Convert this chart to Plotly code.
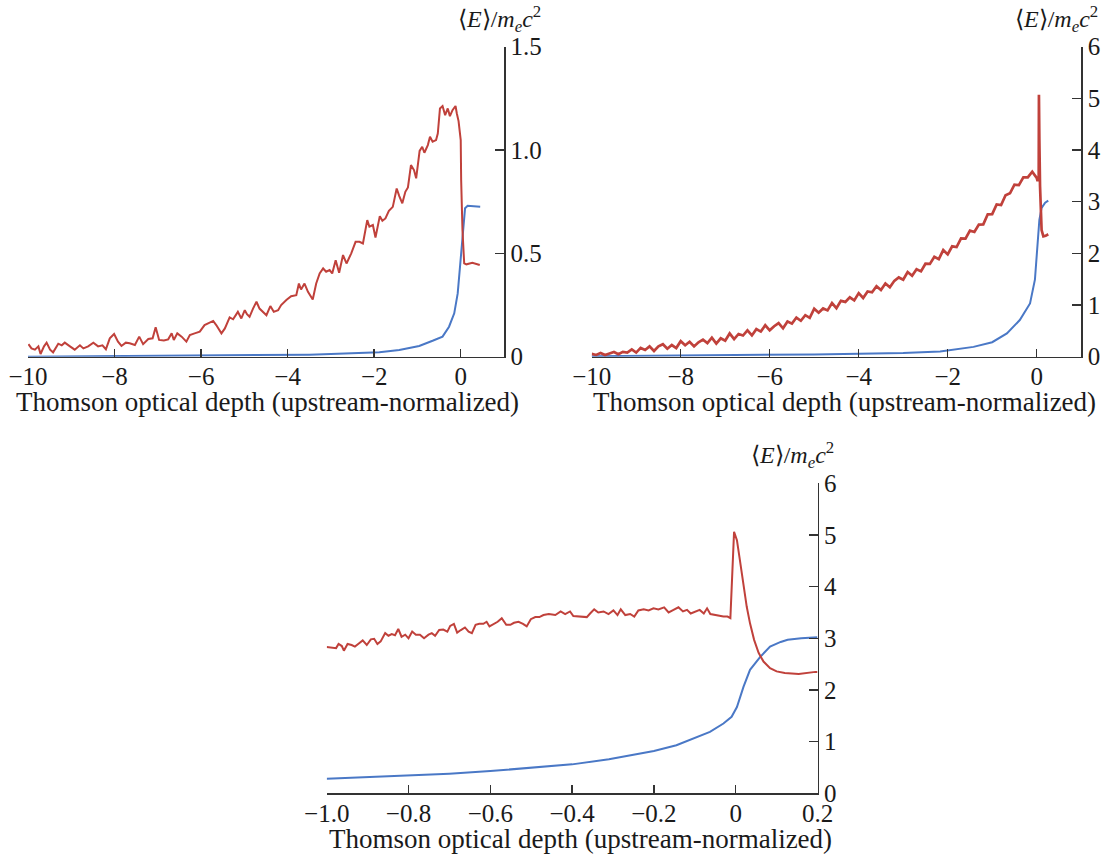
import plotly.graph_objects as go

# ---------------- data: panel 1 (top-left) ----------------
p1_red_x = [-9.99, -9.92, -9.84, -9.76, -9.71, -9.63, -9.57, -9.49, -9.42, -9.30,
            -9.22, -9.15, -9.03, -8.92, -8.80, -8.72, -8.61, -8.49, -8.38, -8.28,
            -8.20, -8.11, -8.01, -7.92, -7.84, -7.74, -7.65, -7.53, -7.43, -7.34,
            -7.22, -7.12, -7.05, -6.97, -6.86, -6.76, -6.68, -6.63, -6.55, -6.45,
            -6.34, -6.26, -6.15, -6.03, -5.92, -5.80, -5.72, -5.65, -5.53, -5.45,
            -5.34, -5.26,
            -5.15, -5.07, -4.99, -4.94, -4.88, -4.80, -4.72, -4.65, -4.57, -4.49,
            -4.40, -4.32, -4.22, -4.15, -4.03, -3.92, -3.80, -3.74, -3.69, -3.61,
            -3.53, -3.42, -3.34, -3.26, -3.18, -3.11, -3.03, -2.97, -2.89, -2.81,
            -2.72, -2.64, -2.53, -2.43, -2.34, -2.26, -2.16, -2.11, -2.03, -1.97,
            -1.87, -1.81, -1.74, -1.66, -1.57, -1.48, -1.42, -1.35, -1.28, -1.22,
            -1.15, -1.08, -1.03, -0.95, -0.89, -0.84, -0.76, -0.71, -0.65, -0.57,
            -0.53, -0.48, -0.42, -0.36, -0.30, -0.25, -0.19, -0.12, -0.09, -0.05,
            0.00, 0.01, 0.04, 0.08, 0.13, 0.27, 0.44]
p1_red_y = [0.061, 0.040, 0.034, 0.050, 0.013, 0.050, 0.068, 0.034, 0.021, 0.063,
            0.055, 0.068, 0.050, 0.034, 0.055, 0.040, 0.050, 0.068, 0.050, 0.055,
            0.036, 0.089, 0.110, 0.073, 0.052, 0.068, 0.065, 0.057, 0.097, 0.061,
            0.086, 0.089, 0.142, 0.081, 0.078, 0.084, 0.113, 0.081, 0.113, 0.097,
            0.073, 0.105, 0.113, 0.121, 0.153, 0.165, 0.173, 0.153, 0.113, 0.137,
            0.190, 0.181,
            0.217, 0.185, 0.225, 0.206, 0.193, 0.233, 0.266, 0.233, 0.217, 0.201,
            0.245, 0.217, 0.225, 0.250, 0.274, 0.293, 0.298, 0.354, 0.325, 0.354,
            0.314, 0.277, 0.354, 0.403, 0.427, 0.411, 0.419, 0.403, 0.467, 0.406,
            0.492, 0.451, 0.500, 0.556, 0.556, 0.548, 0.661, 0.629, 0.637, 0.577,
            0.680, 0.658, 0.669, 0.706, 0.725, 0.814, 0.777, 0.742, 0.798, 0.819,
            0.927, 0.903, 0.863, 0.996, 1.016, 0.987, 1.024, 1.064, 1.040, 1.048,
            1.080, 1.201, 1.213, 1.169, 1.201, 1.164, 1.193, 1.213, 1.177, 1.140,
            1.048, 0.855, 0.613, 0.452, 0.447, 0.455, 0.444]
p1_blue_x = [-10, -9, -8, -7, -6, -5, -4, -3.5, -3, -2.5, -1.88, -1.42, -0.96, -0.65,
             -0.42, -0.27, -0.15, -0.07, -0.02, 0.03, 0.07, 0.10, 0.16, 0.31, 0.45]
p1_blue_y = [0.000, 0.001, 0.002, 0.003, 0.004, 0.006, 0.008, 0.010, 0.013, 0.017,
             0.022, 0.032, 0.052, 0.077, 0.097, 0.145, 0.210, 0.306, 0.435, 0.565,
             0.661, 0.718, 0.730, 0.729, 0.726]

# ---------------- data: panel 2 (top-right) ----------------
p2_red_x = [-10.0, -9.9, -9.8, -9.7, -9.6, -9.5, -9.4, -9.3, -9.2, -9.1,
            -9.0, -8.9, -8.8, -8.7, -8.6, -8.5, -8.4, -8.3, -8.2, -8.1,
            -8.0, -7.9, -7.8, -7.7, -7.6, -7.5, -7.4, -7.3, -7.2, -7.1,
            -7.0, -6.9, -6.8, -6.7, -6.6, -6.5, -6.4, -6.3, -6.2, -6.1,
            -6.0, -5.9, -5.8, -5.7, -5.6, -5.5, -5.4, -5.3, -5.2, -5.1,
            -5.0, -4.9, -4.8, -4.7, -4.6, -4.5, -4.4, -4.3, -4.2, -4.1,
            -4.0, -3.9, -3.8, -3.7, -3.6, -3.5, -3.4, -3.3, -3.2, -3.1,
            -3.0, -2.9, -2.8, -2.7, -2.6, -2.5, -2.4, -2.3, -2.2, -2.1,
            -2.0, -1.9, -1.8, -1.7, -1.6, -1.5, -1.4, -1.3, -1.2, -1.1,
            -1.0, -0.9, -0.8, -0.7, -0.6, -0.5, -0.4, -0.3, -0.2, -0.1,
            0.0, 0.02, 0.045, 0.05, 0.06, 0.075, 0.09, 0.11, 0.15, 0.20, 0.26]
p2_red_y = [0.055, 0.034, 0.073, 0.032, 0.061, 0.090, 0.047, 0.094, 0.081, 0.143,
            0.080, 0.170, 0.130, 0.200, 0.110, 0.200, 0.242, 0.154, 0.226, 0.168,
            0.300, 0.220, 0.290, 0.200, 0.280, 0.330, 0.264, 0.368, 0.252, 0.356,
            0.310, 0.450, 0.340, 0.440, 0.410, 0.510, 0.412, 0.534, 0.486, 0.608,
            0.510, 0.590, 0.650, 0.550, 0.680, 0.640, 0.758, 0.696, 0.804, 0.752,
            0.930, 0.852, 0.934, 0.896, 1.038, 0.940, 1.080, 1.060, 1.150, 1.090,
            1.230, 1.136, 1.262, 1.248, 1.364, 1.290, 1.416, 1.342, 1.468, 1.534,
            1.490, 1.638, 1.566, 1.694, 1.652, 1.800, 1.796, 1.932, 1.888, 2.064,
            1.980, 2.136, 2.122, 2.288, 2.284, 2.440, 2.414, 2.558, 2.562, 2.756,
            2.760, 2.948, 2.936, 3.124, 3.162, 3.330, 3.320, 3.470, 3.470, 3.580,
            3.460, 3.400, 3.450, 5.070, 4.200, 3.300, 2.750, 2.450, 2.330, 2.340, 2.370]
p2_blue_x = [-10, -9, -8, -7, -6, -5, -4, -3, -2.17, -1.42, -1.0, -0.67, -0.38,
             -0.15, -0.04, 0.02, 0.06, 0.11, 0.19, 0.26]
p2_blue_y = [0.01, 0.015, 0.02, 0.03, 0.035, 0.045, 0.055, 0.07, 0.10, 0.19, 0.28,
             0.45, 0.71, 1.03, 1.49, 2.13, 2.65, 2.88, 2.98, 3.02]

# ---------------- data: panel 3 (bottom, zoom near the shock) ----------------
p3_red_x = [-1.000, -0.988, -0.977, -0.971, -0.963, -0.958, -0.949, -0.939, -0.931, -0.923,
            -0.912, -0.902, -0.892, -0.884, -0.876, -0.868, -0.857, -0.849, -0.841, -0.833,
            -0.825, -0.817, -0.808, -0.800, -0.791, -0.782, -0.772, -0.762, -0.751, -0.743,
            -0.735, -0.725, -0.715, -0.705, -0.698, -0.689, -0.681, -0.672, -0.662, -0.653,
            -0.645, -0.636, -0.627, -0.617, -0.609, -0.602, -0.592, -0.582, -0.572, -0.561,
            -0.551, -0.542, -0.531, -0.520, -0.511, -0.501, -0.490, -0.480, -0.470, -0.457,
            -0.441, -0.428, -0.417, -0.405, -0.397, -0.380, -0.364, -0.356, -0.346, -0.336,
            -0.323, -0.311, -0.299, -0.289, -0.281, -0.270, -0.258, -0.248, -0.238, -0.225,
            -0.213, -0.201, -0.189, -0.175, -0.164, -0.152, -0.140, -0.129, -0.119, -0.110,
            -0.099, -0.088, -0.078, -0.070, -0.062, -0.052, -0.042, -0.030, -0.020, -0.013,
            -0.004, 0.003, 0.009, 0.015, 0.020, 0.027, 0.035, 0.045, 0.056, 0.068,
            0.084, 0.100, 0.120, 0.154, 0.195, 0.200]
p3_red_y = [2.83, 2.82, 2.81, 2.89, 2.85, 2.76, 2.89, 2.87, 2.84, 2.89,
            2.96, 2.87, 2.98, 2.99, 2.89, 2.94, 3.10, 3.05, 3.08, 3.06,
            3.18, 3.03, 3.07, 3.00, 3.13, 3.07, 3.07, 3.00, 3.07, 3.10,
            3.05, 3.16, 3.17, 3.13, 3.24, 3.28, 3.11, 3.16, 3.21, 3.13,
            3.10, 3.26, 3.28, 3.28, 3.32, 3.23, 3.28, 3.32, 3.39, 3.26,
            3.26, 3.30, 3.32, 3.28, 3.23, 3.37, 3.41, 3.41, 3.45, 3.47,
            3.45, 3.52, 3.47, 3.52, 3.43, 3.42, 3.41, 3.48, 3.56, 3.50,
            3.52, 3.47, 3.54, 3.45, 3.56, 3.45, 3.47, 3.42, 3.54, 3.56,
            3.54, 3.58, 3.56, 3.60, 3.50, 3.55, 3.60, 3.52, 3.55, 3.48,
            3.52, 3.55, 3.48, 3.58, 3.47, 3.45, 3.43, 3.42, 3.42, 3.39,
            5.06, 4.90, 4.58, 4.26, 3.94, 3.61, 3.29, 2.97, 2.72, 2.55,
            2.42, 2.36, 2.33, 2.31, 2.35, 2.35]
p3_blue_x = [-1.0, -0.9, -0.8, -0.7, -0.6, -0.5, -0.4, -0.31, -0.2, -0.145, -0.104,
             -0.063, -0.03, -0.01, 0.003, 0.019, 0.035, 0.06, 0.084, 0.11, 0.127,
             0.16, 0.2]
p3_blue_y = [0.28, 0.31, 0.34, 0.38, 0.43, 0.49, 0.56, 0.66, 0.82, 0.93, 1.06,
             1.19, 1.35, 1.48, 1.67, 2.06, 2.39, 2.64, 2.84, 2.93, 2.97,
             3.00, 3.02]

# tick labels
p1_xticks = [-10, -8, -6, -4, -2, 0]
p1_xtext = ["\u221210", "\u22128", "\u22126", "\u22124", "\u22122", "0"]
p1_yticks = [0, 0.5, 1.0, 1.5]
p1_ytext = ["0", "0.5", "1.0", "1.5"]
p2_yticks = [0, 1, 2, 3, 4, 5, 6]
p2_ytext = ["0", "1", "2", "3", "4", "5", "6"]
p3_xticks = [-1.0, -0.8, -0.6, -0.4, -0.2, 0, 0.2]
p3_xtext = ["\u22121.0", "\u22120.8", "\u22120.6", "\u22120.4", "\u22120.2", "0", "0.2"]

x_title = "Thomson optical depth (upstream-normalized)"
y_title = "\u27e8<i>E</i>\u27e9/<i>m</i><sub><i>e</i></sub><i>c</i><sup>2</sup>"

RED = "#C0413B"
BLUE = "#4A78C6"
AX = "#333333"
FONT = "Liberation Serif"
W, H = 1107, 857

fig = go.Figure()
def add(x, y, color, xa, ya, width=2):
    fig.add_trace(go.Scatter(x=x, y=y, mode="lines", xaxis=xa, yaxis=ya,
                             line=dict(color=color, width=width), showlegend=False,
                             hoverinfo="skip"))

add(p1_blue_x, p1_blue_y, BLUE, "x", "y")
add(p1_red_x, p1_red_y, RED, "x", "y")
add(p2_blue_x, p2_blue_y, BLUE, "x2", "y2")
add(p2_red_x, p2_red_y, RED, "x2", "y2", width=2.7)
add(p3_blue_x, p3_blue_y, BLUE, "x3", "y3")
add(p3_red_x, p3_red_y, RED, "x3", "y3")

def xdom(a, b):
    return [a / W, b / W]

def ydom(top, bottom):
    return [1 - bottom / H, 1 - top / H]

tick_font = dict(family=FONT, size=25, color="#1a1a1a")
common_x = dict(showline=True, linecolor=AX, linewidth=1.5, ticks="inside", ticklen=8,
                tickwidth=1.5, tickcolor=AX, showgrid=False, zeroline=False,
                automargin=False, tickfont=tick_font, ticklabelstandoff=-3)
common_y = dict(showline=True, linecolor=AX, linewidth=1.5, ticks="inside", ticklen=9,
                tickwidth=1.5, tickcolor=AX, showgrid=False, zeroline=False, side="right",
                automargin=False, tickfont=tick_font)

fig.update_layout(
    width=W, height=H, margin=dict(l=0, r=0, t=0, b=0, autoexpand=False),
    paper_bgcolor="white", plot_bgcolor="white", showlegend=False,
    xaxis=dict(domain=xdom(28, 504), range=[-10, 1], anchor="y",
               tickvals=p1_xticks, ticktext=p1_xtext, **common_x),
    yaxis=dict(domain=ydom(46.7, 356.7), range=[0, 1.5], anchor="x",
               tickvals=p1_yticks, ticktext=p1_ytext, **common_y),
    xaxis2=dict(domain=xdom(591.7, 1081.2), range=[-10, 1], anchor="y2",
                tickvals=p1_xticks, ticktext=p1_xtext, **common_x),
    yaxis2=dict(domain=ydom(46.7, 356.7), range=[0, 6], anchor="x2",
                tickvals=p2_yticks, ticktext=p2_ytext, **common_y),
    xaxis3=dict(domain=xdom(326.7, 817.5), range=[-1.0, 0.2], anchor="y3",
                tickvals=p3_xticks, ticktext=p3_xtext, **common_x),
    yaxis3=dict(domain=ydom(483.3, 793.3), range=[0, 6], anchor="x3",
                tickvals=p2_yticks, ticktext=p2_ytext, **common_y),
)

ann_font = dict(family=FONT, size=27, color="#1a1a1a")
for cx, cy in [(267, 402), (844, 402), (580, 839)]:
    fig.add_annotation(text=x_title, x=cx / W, y=1 - cy / H, xref="paper", yref="paper",
                       xanchor="center", yanchor="middle", showarrow=False, font=ann_font)
for rx, cy in [(543, 19), (1100, 19), (836, 455)]:
    fig.add_annotation(text=y_title, x=rx / W, y=1 - cy / H, xref="paper", yref="paper",
                       xanchor="right", yanchor="middle", showarrow=False,
                       font=dict(family=FONT, size=24, color="#1a1a1a"))

fig.write_html("out.html",
               config={"displayModeBar": False, "staticPlot": True},
               post_script="document.body.style.margin='0';"
                           "document.body.style.overflow='hidden';")
